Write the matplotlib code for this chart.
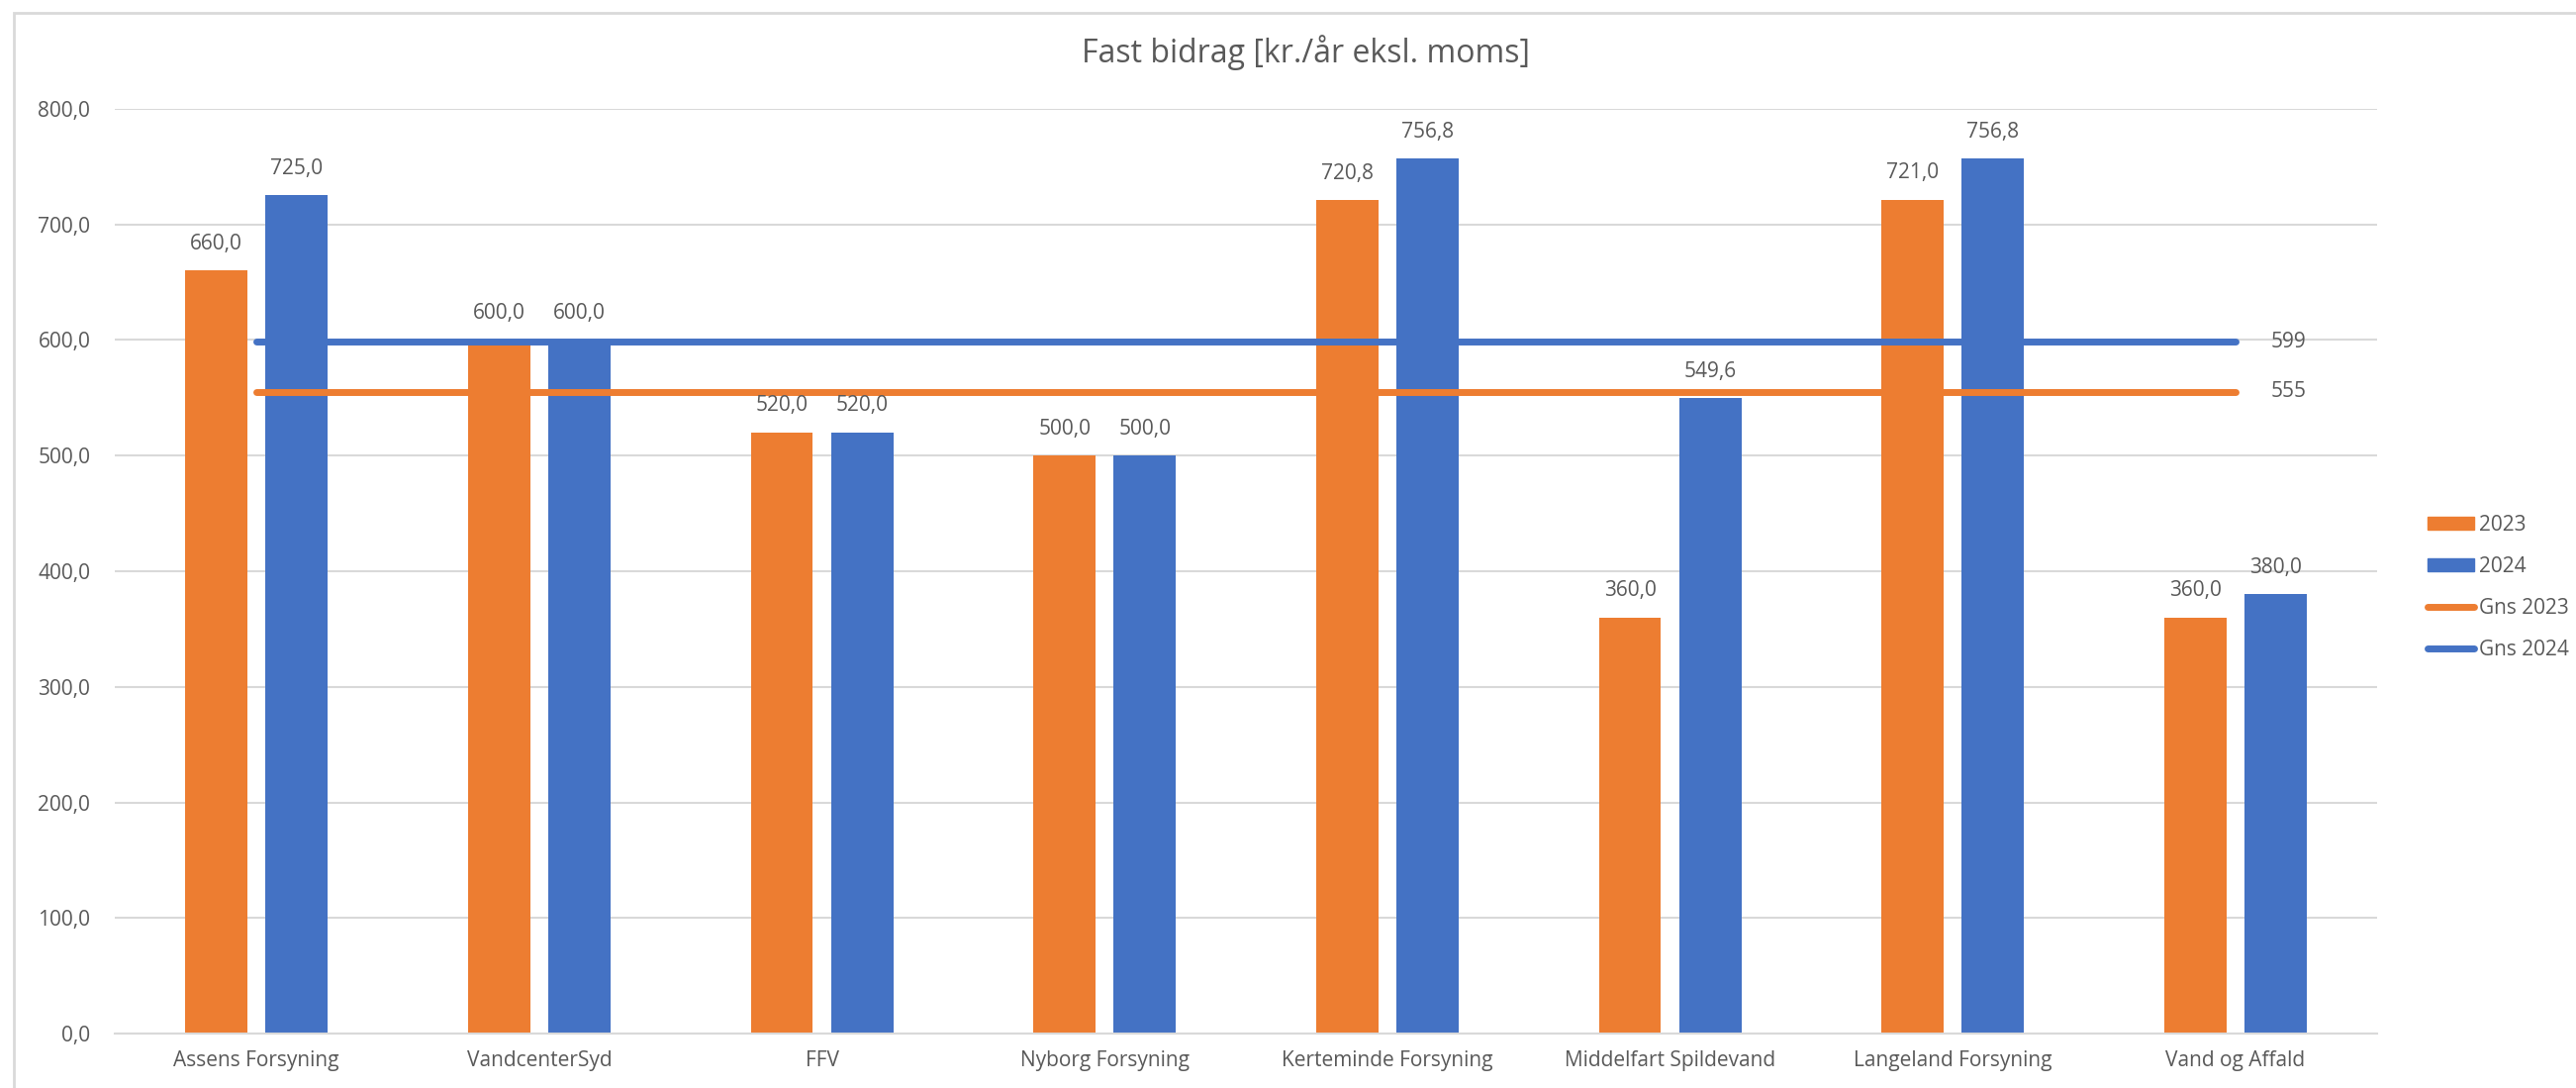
import matplotlib.pyplot as plt
import matplotlib.patches as mpatches
from matplotlib.lines import Line2D
import numpy as np

# Data
categories = ['Assens Forsyning', 'VandcenterSyd', 'FFV', 'Nyborg Forsyning',
              'Kerteminde Forsyning', 'Middelfart Spildevand', 'Langeland Forsyning',
              'Vand og Affald']
values_2023 = [660.0, 600.0, 520.0, 500.0, 720.8, 360.0, 721.0, 360.0]
values_2024 = [725.0, 600.0, 520.0, 500.0, 756.8, 549.6, 756.8, 380.0]
avg_2023 = np.mean(values_2023)
avg_2024 = np.mean(values_2024)

orange = '#ED7D31'
blue = '#4472C4'
txt = '#595959'
grid = '#D9D9D9'

plt.rcParams['font.family'] = ['Open Sans', 'DejaVu Sans']

fig = plt.figure(figsize=(26.03, 10.99), dpi=100)
ax = fig.add_axes([0.0447, 0.050, 0.878, 0.850])

x = np.arange(len(categories))
w = 0.22
off = 0.142
ax.bar(x - off, values_2023, w, color=orange, zorder=2)
ax.bar(x + off, values_2024, w, color=blue, zorder=2)

ax.plot(x, [avg_2023] * len(x), color=orange, lw=5, solid_capstyle='round', zorder=3)
ax.plot(x, [avg_2024] * len(x), color=blue, lw=5, solid_capstyle='round', zorder=3)

def fmt(v):
    return f'{v:.1f}'.replace('.', ',')

for xs, vals in [(x - off, values_2023), (x + off, values_2024)]:
    for xi, v in zip(xs, vals):
        ax.annotate(fmt(v), (xi, v), xytext=(0, 12), textcoords='offset points',
                    ha='center', va='bottom', fontsize=15, color=txt)

ax.annotate(f'{avg_2024:.0f}', (x[-1], avg_2024), xytext=(26, 0), textcoords='offset points',
            ha='left', va='center', fontsize=15, color=txt)
ax.annotate(f'{avg_2023:.0f}', (x[-1], avg_2023), xytext=(26, 0), textcoords='offset points',
            ha='left', va='center', fontsize=15, color=txt)

ax.set_xlim(-0.5, len(categories) - 0.5)
ax.set_ylim(0, 800)
ax.set_yticks(np.arange(0, 801, 100))
ax.set_yticklabels([fmt(v) for v in np.arange(0, 801, 100)])
ax.set_xticks(x)
ax.set_xticklabels(categories)
ax.tick_params(axis='both', length=0, labelsize=15, labelcolor=txt)
ax.tick_params(axis='x', pad=12)
ax.tick_params(axis='y', pad=18)
ax.yaxis.grid(True, color=grid, lw=1.5, zorder=0)
ax.set_axisbelow(True)
for s in ['top', 'right', 'left']:
    ax.spines[s].set_visible(False)
ax.spines['bottom'].set_color(grid)
ax.spines['bottom'].set_linewidth(1.5)

fig.suptitle('Fast bidrag [kr./år eksl. moms]', x=0.507, y=0.968, fontsize=23, color=txt)

# Legend
handles = [mpatches.Patch(color=orange), mpatches.Patch(color=blue),
           Line2D([], [], color=orange, lw=5, solid_capstyle='round'),
           Line2D([], [], color=blue, lw=5, solid_capstyle='round')]
fig.legend(handles, ['2023', '2024', 'Gns 2023', 'Gns 2024'], loc='center left',
           bbox_to_anchor=(0.935, 0.46), frameon=False, fontsize=15, labelcolor=txt,
           handlelength=2.3, handleheight=0.6, handletextpad=0.2, labelspacing=1.0)

# Outer chart border
fig.patches.append(mpatches.Rectangle((0.0055, -0.01), 1.0, 0.998, transform=fig.transFigure,
                                      fill=False, edgecolor=grid, lw=2))

fig.savefig('out.png', dpi=100)
